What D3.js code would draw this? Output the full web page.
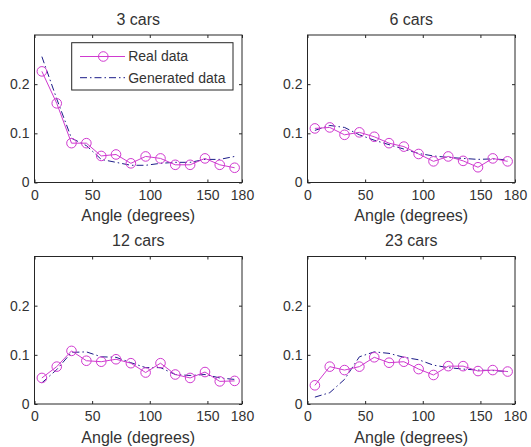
<!DOCTYPE html>
<html><head><meta charset="utf-8">
<script src="https://cdn.jsdelivr.net/npm/d3@7"></script>
<style>
body{margin:0;background:#fff}
text{font-family:"Liberation Sans",Arial,Helvetica,sans-serif;font-weight:normal;fill:#333}
</style>
</head><body>
<svg id="chart" width="531" height="447"></svg>
<script>
// ---- data ----
const angles = [6.4, 19.3, 32.1, 45.0, 57.9, 70.7, 83.6, 96.4, 109.3, 122.1, 135.0, 147.9, 160.7, 173.6];
const titles = ["3 cars", "6 cars", "12 cars", "23 cars"];
const xTicks = [0, 50, 100, 150, 180];
const yTicks = [0, 0.1, 0.2];
const xLabel = "Angle (degrees)";
const seriesNames = ["Real data", "Generated data"];

const real3  = [0.226, 0.161, 0.080, 0.080, 0.054, 0.057, 0.039, 0.053, 0.049, 0.036, 0.036, 0.049, 0.036, 0.030];
const gen3   = [0.256, 0.170, 0.090, 0.075, 0.047, 0.041, 0.035, 0.035, 0.039, 0.041, 0.041, 0.047, 0.047, 0.053];
const real6  = [0.110, 0.112, 0.097, 0.102, 0.093, 0.080, 0.073, 0.058, 0.043, 0.053, 0.044, 0.031, 0.049, 0.043];
const gen6   = [0.106, 0.116, 0.112, 0.097, 0.086, 0.077, 0.068, 0.059, 0.054, 0.051, 0.049, 0.047, 0.048, 0.046];
const real12 = [0.053, 0.076, 0.108, 0.088, 0.086, 0.091, 0.083, 0.064, 0.083, 0.060, 0.053, 0.065, 0.046, 0.047];
const gen12  = [0.043, 0.070, 0.105, 0.106, 0.096, 0.095, 0.084, 0.074, 0.074, 0.060, 0.058, 0.060, 0.053, 0.050];
const real23 = [0.038, 0.076, 0.069, 0.076, 0.095, 0.084, 0.086, 0.071, 0.059, 0.077, 0.077, 0.067, 0.069, 0.066];
const gen23  = [0.014, 0.023, 0.050, 0.096, 0.106, 0.103, 0.095, 0.090, 0.079, 0.074, 0.071, 0.069, 0.068, 0.066];

const realSeries = [real3, real6, real12, real23];
const genSeries  = [gen3, gen6, gen12, gen23];

// ---- layout ----
const lefts = [34.5, 307.5];
const tops = [35, 256.5];
const W = 207.5, H = 147.5;
const realColor = "#d03ad0";
const genColor = "#1c1c88";
const axisColor = "#262626";

const svg = d3.select("#chart");

titles.forEach((title, i) => {
  const ox = lefts[i % 2], oy = tops[Math.floor(i / 2)];
  const g = svg.append("g").attr("transform", `translate(${ox},${oy})`);
  const x = d3.scaleLinear().domain([0, 180]).range([0, W]);
  const y = d3.scaleLinear().domain([0, 0.3]).range([H, 0]);

  const yFmt = d => d === 0 ? "0" : d3.format(".1f")(d);

  // axes
  const ax = g.append("g").attr("transform", `translate(0,${H})`)
    .call(d3.axisBottom(x).tickValues(xTicks).tickSize(-3).tickPadding(7.5).tickFormat(d3.format("d")));
  const ay = g.append("g")
    .call(d3.axisLeft(y).tickValues(yTicks).tickSize(-3).tickPadding(5).tickFormat(yFmt));
  const at = g.append("g")
    .call(d3.axisTop(x).tickValues(xTicks).tickSize(-3).tickFormat(""));
  const ar = g.append("g").attr("transform", `translate(${W},0)`)
    .call(d3.axisRight(y).tickValues(yTicks).tickSize(-3).tickFormat(""));
  [ax, ay, at, ar].forEach(a => {
    a.attr("font-family", null);
    a.select(".domain").remove();
    a.selectAll(".tick line").attr("stroke", axisColor);
    a.selectAll(".tick text").attr("font-size", 14).style("fill", "#333");
  });
  g.append("rect").attr("x", 0).attr("y", 0).attr("width", W).attr("height", H)
    .attr("fill", "none").attr("stroke", axisColor).attr("stroke-width", 1);

  // title and x label
  g.append("text").attr("x", W / 2).attr("y", -10.5).attr("text-anchor", "middle")
    .attr("font-size", 16).text(title);
  g.append("text").attr("x", W / 2).attr("y", H + 38.5).attr("text-anchor", "middle")
    .attr("font-size", 16).text(xLabel);

  // lines
  const realPts = angles.map((a, k) => [a, realSeries[i][k]]);
  const genPts = angles.map((a, k) => [a, genSeries[i][k]]);
  const line = d3.line().x(d => x(d[0])).y(d => y(d[1]));

  g.append("path").datum(genPts).attr("d", line).attr("fill", "none")
    .attr("stroke", genColor).attr("stroke-width", 1).attr("stroke-dasharray", "7,3,1.5,3");
  g.append("path").datum(realPts).attr("d", line).attr("fill", "none")
    .attr("stroke", realColor).attr("stroke-width", 1);
  g.selectAll("circle.m").data(realPts).enter().append("circle").attr("class", "m")
    .attr("cx", d => x(d[0])).attr("cy", d => y(d[1])).attr("r", 4.8)
    .attr("fill", "none").attr("stroke", realColor).attr("stroke-width", 1);

  // legend on first panel
  if (i === 0) {
    const lg = g.append("g").attr("transform", `translate(${71.7 - ox},${42.7 - oy})`);
    lg.append("rect").attr("width", 161.3).attr("height", 47.3)
      .attr("fill", "#fff").attr("stroke", axisColor).attr("stroke-width", 1);
    lg.append("line").attr("x1", 8.3).attr("x2", 53.3).attr("y1", 13.8).attr("y2", 13.8)
      .attr("stroke", realColor).attr("stroke-width", 1);
    lg.append("circle").attr("cx", 31.6).attr("cy", 13.8).attr("r", 4.8)
      .attr("fill", "none").attr("stroke", realColor);
    lg.append("line").attr("x1", 8.3).attr("x2", 53.3).attr("y1", 35).attr("y2", 35)
      .attr("stroke", genColor).attr("stroke-width", 1).attr("stroke-dasharray", "7,3,1.5,3");
    lg.append("text").attr("x", 56.5).attr("y", 13.8).attr("dy", "0.35em")
      .attr("font-size", 14).text(seriesNames[0]);
    lg.append("text").attr("x", 56.5).attr("y", 35).attr("dy", "0.35em")
      .attr("font-size", 14).text(seriesNames[1]);
  }
});
</script>
</body></html>
